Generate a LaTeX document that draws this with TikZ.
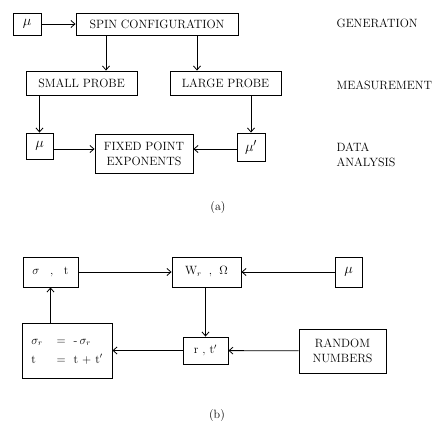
\documentclass[tikz,border=0pt]{standalone}
\usepackage{fontspec}
\usetikzlibrary{positioning,arrows.meta}

\newcommand{\bigmu}{\fontsize{15}{17}\selectfont$\mu$}

\begin{document}
\begin{tikzpicture}
[
    x=1pt, y=-1pt,
    box/.style={draw, line width=0.9pt, inner sep=2pt, font=\fontsize{12}{15}\selectfont\addfontfeatures{LetterSpace=14}},
    stage/.style={anchor=west, align=left, font=\fontsize{12}{15}\selectfont\addfontfeatures{LetterSpace=14}},
    flow/.style={-{Straight Barb[length=4pt, width=7pt]}, line width=0.8pt}
]
    \useasboundingbox (0,0) rectangle (438,426);

    % (a) generation, measurement, analysis
    \node [box, minimum width=28, minimum height=22] (mua) at (27,24) {\bigmu};
    \node [box, minimum width=162, minimum height=22] (spin) at (157,24) {SPIN CONFIGURATION};
    \node [box, minimum width=111, minimum height=24] (small) at (81.5,83) {SMALL PROBE};
    \node [box, minimum width=111, minimum height=24] (large) at (225.5,83) {LARGE PROBE};
    \node [box, minimum width=27, minimum height=26] (mub) at (39.5,146) {\bigmu};
    \node [box, minimum width=98, minimum height=39, align=center] (fixed) at (144,153.5) {FIXED POINT\\EXPONENTS};
    \node [box, minimum width=28, minimum height=28] (muprime) at (251,147) {\bigmu$'$};

    \node [stage] (gen) at (333,23) {GENERATION};
    \node [stage] (meas) at (333,85) {MEASUREMENT};
    \node [stage] (data) at (333,155) {DATA\\ANALYSIS};
    \node [font=\fontsize{12}{14}\selectfont] (capa) at (218,207) {(a)};

    \draw [flow] (mua) -- (spin);
    \draw [flow] ([xshift=-51pt]spin.south) -- ([xshift=-51pt]spin.south |- small.north);
    \draw [flow] ([xshift=40pt]spin.south) -- ([xshift=40pt]spin.south |- large.north);
    \draw [flow] (small.south -| mub.north) -- (mub.north);
    \draw [flow] (large.south -| muprime.north) -- (muprime.north);
    \draw [flow] ([yshift=-3pt]mub.east) -- ([yshift=-3pt]mub.east -| fixed.west);
    \draw [flow] ([yshift=-2pt]muprime.west) -- ([yshift=-2pt]muprime.west -| fixed.east);

    % (b) spin flip loop
    \node [box, minimum width=55, minimum height=30] (sigt) at (50.5,272) {$\sigma$ \;\;,\;\; t};
    \node [box, minimum width=69, minimum height=30] (wr) at (206.5,272) {W$_r$ \;,\; $\Omega$};
    \node [box, minimum width=27, minimum height=30] (muc) at (348.5,272) {\bigmu};
    \node [box, minimum width=45, minimum height=27] (rt) at (205.5,350.5) {r , t$'$};
    \node [box, minimum width=87, minimum height=44, align=center] (rand) at (342.5,351) {RANDOM\\NUMBERS};
    \node [box, minimum width=90, minimum height=55] (flip) at (67,350.5)
        {\begin{tabular}{@{}l@{\hspace{14pt}}c@{\hspace{8pt}}l@{}}
            $\sigma_r$ & = & -\,$\sigma_r$\\[4pt]
            t & = & t + t$'$
        \end{tabular}};
    \node [font=\fontsize{12}{14}\selectfont] (capb) at (217,415) {(b)};

    \draw [flow] (sigt) -- (wr);
    \draw [flow] (muc) -- (wr);
    \draw [flow] (wr.south -| rt.north) -- (rt.north);
    \draw [flow] (rand) -- (rt);
    \draw [flow] (rt) -- (flip);
    \draw [flow] (flip.north -| sigt.south) -- (sigt.south);
\end{tikzpicture}
\end{document}
